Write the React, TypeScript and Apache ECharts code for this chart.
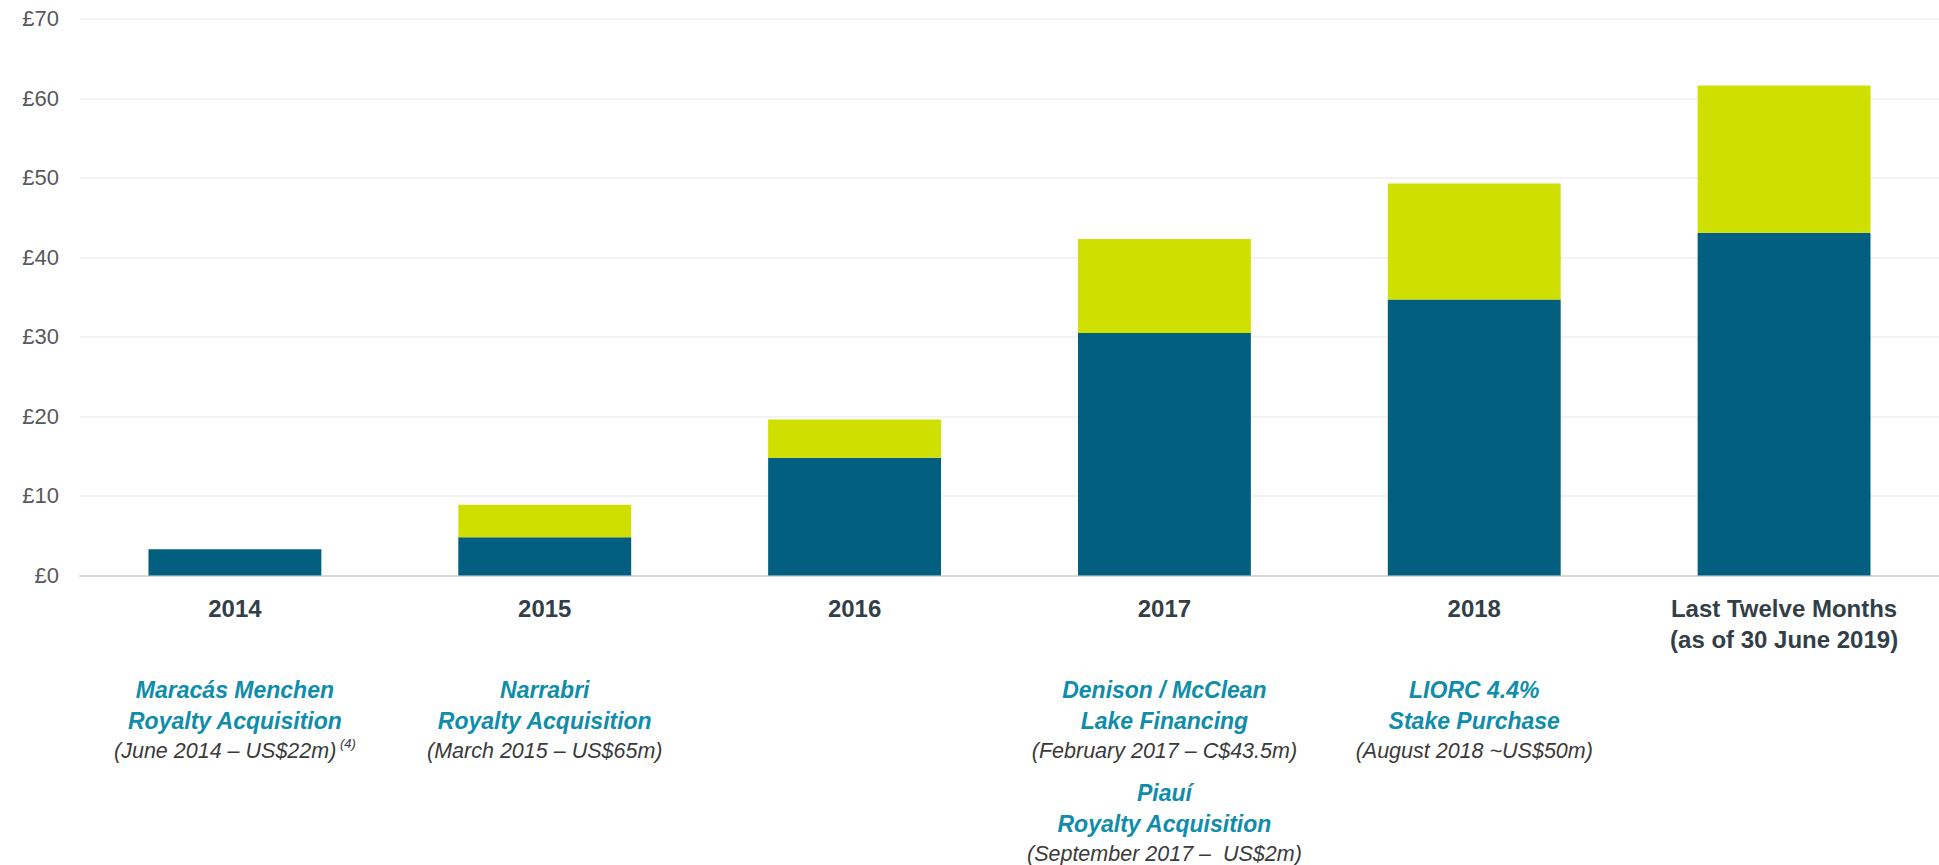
import React, { useEffect, useRef } from "react";
import * as echarts from "echarts";

const categories: string[] = [
  "2014",
  "2015",
  "2016",
  "2017",
  "2018",
  "Last Twelve Months\n(as of 30 June 2019)",
];
const baseValues: number[] = [3.3, 4.8, 14.8, 30.5, 34.7, 43.1];
const topValues: number[] = [0, 4.1, 4.8, 11.8, 14.6, 18.5];
const yTicks = { min: 0, max: 70, interval: 10 };

type Note = { cat: number; row: number; title: string[]; detail: string; sup?: string };
const notes: Note[] = [
  { cat: 0, row: 0, title: ["Maracás Menchen", "Royalty Acquisition"], detail: "(June 2014 – US$22m)", sup: "(4)" },
  { cat: 1, row: 0, title: ["Narrabri", "Royalty Acquisition"], detail: "(March 2015 – US$65m)" },
  { cat: 3, row: 0, title: ["Denison / McClean", "Lake Financing"], detail: "(February 2017 – C$43.5m)" },
  { cat: 3, row: 1, title: ["Piauí", "Royalty Acquisition"], detail: "(September 2017 –  US$2m)" },
  { cat: 4, row: 0, title: ["LIORC 4.4%", "Stake Purchase"], detail: "(August 2018 ~US$50m)" },
];

const FONT = 'Arial, "Liberation Sans", sans-serif';
const BLUE = "#035F7F";
const LIME = "#CFDF00";
const TEAL = "#0F8DAA";

export default function App() {
  const ref = useRef<HTMLDivElement>(null);
  useEffect(() => {
    document.body.style.margin = "0";
    const chart = echarts.init(ref.current!, undefined, { renderer: "svg" });
    chart.setOption({
      animation: false,
      backgroundColor: "#ffffff",
      grid: { left: 80, right: 0, top: 18.8, bottom: 289.5, containLabel: false },
      xAxis: {
        type: "category",
        data: categories,
        axisTick: { show: false },
        axisLine: { lineStyle: { color: "#D9D9D9", width: 2 } },
        axisLabel: {
          interval: 0,
          margin: 17,
          color: "#333F48",
          fontFamily: FONT,
          fontWeight: "bold",
          fontSize: 24,
          lineHeight: 31,
        },
      },
      yAxis: {
        type: "value",
        min: yTicks.min,
        max: yTicks.max,
        interval: yTicks.interval,
        axisLine: { show: false },
        axisTick: { show: false },
        splitLine: { lineStyle: { color: "#EFEFEF", width: 1.5 } },
        axisLabel: {
          margin: 21,
          color: "#595959",
          fontFamily: FONT,
          fontSize: 22,
          formatter: (v: number) => "£" + v,
        },
      },
      series: [
        {
          type: "bar",
          stack: "total",
          data: baseValues,
          barWidth: "55.8%",
          itemStyle: { color: BLUE },
        },
        {
          type: "bar",
          stack: "total",
          data: topValues,
          barWidth: "55.8%",
          itemStyle: { color: LIME },
        },
      ],
    });

    const rowTops = [674.5, 777.5];
    const graphic = notes.map((n) => {
      const x = chart.convertToPixel({ xAxisIndex: 0 }, n.cat) as number;
      const lines = n.title.map((t) => `{t|${t}}`);
      lines.push(`{d|${n.detail}}` + (n.sup ? `{s| ${n.sup}}` : ""));
      return {
        type: "text",
        x,
        y: rowTops[n.row],
        style: {
          text: lines.join("\n"),
          align: "center",
          verticalAlign: "top",
          rich: {
            t: {
              fontFamily: FONT,
              fontSize: 23,
              fontWeight: "bold",
              fontStyle: "italic",
              fill: TEAL,
              lineHeight: 31,
              align: "center",
            },
            d: {
              fontFamily: FONT,
              fontSize: 21.5,
              fontStyle: "italic",
              fill: "#3A3A3A",
              lineHeight: 28,
              align: "center",
            },
            s: {
              fontFamily: FONT,
              fontSize: 13,
              fontStyle: "italic",
              fill: "#3A3A3A",
              lineHeight: 28,
              verticalAlign: "top",
            },
          },
        },
      };
    });
    chart.setOption({ graphic });

    return () => chart.dispose();
  }, []);
  return <div ref={ref} style={{ width: 1939, height: 865 }} />;
}
